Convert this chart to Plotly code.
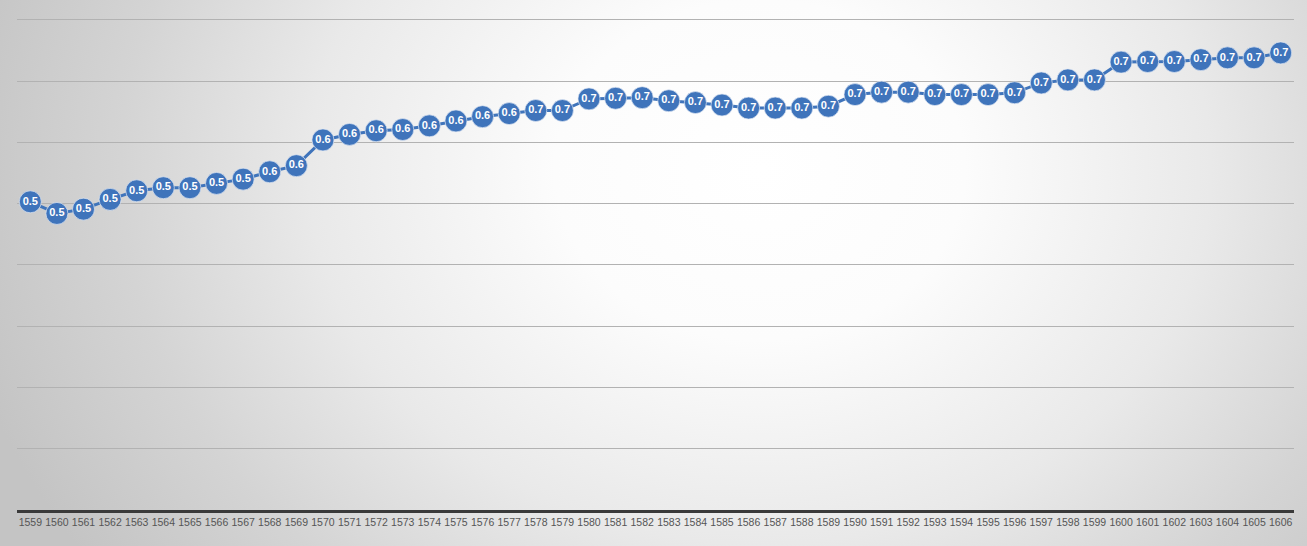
import plotly.graph_objects as go
import urllib.parse

years = [str(y) for y in range(1559, 1607)]
values = [0.503, 0.484, 0.491, 0.507, 0.521, 0.526, 0.526, 0.533, 0.540, 0.552,
          0.562, 0.604, 0.613, 0.619, 0.621, 0.627, 0.635, 0.642, 0.647, 0.652,
          0.652, 0.671, 0.672, 0.673, 0.668, 0.665, 0.661, 0.656, 0.656, 0.656,
          0.659, 0.678, 0.682, 0.682, 0.678, 0.678, 0.678, 0.681, 0.697, 0.702,
          0.702, 0.731, 0.732, 0.732, 0.735, 0.738, 0.738, 0.746]
y_ticks = [0, 0.1, 0.2, 0.3, 0.4, 0.5, 0.6, 0.7, 0.8]

W, H = 1307, 546
ML, MR, MT, MB = 17, 13, 18, 36
BLUE = "#3f74bb"

svg = (
    f'<svg xmlns="http://www.w3.org/2000/svg" width="{W}" height="{H}" viewBox="0 0 {W} {H}">'
    '<defs><radialGradient id="g" gradientUnits="userSpaceOnUse" cx="0" cy="0" r="1" '
    'gradientTransform="translate(760 170) scale(820 680)">'
    '<stop offset="0" stop-color="#ffffff"/>'
    '<stop offset="0.25" stop-color="#fcfcfc"/>'
    '<stop offset="0.55" stop-color="#e9e9e9"/>'
    '<stop offset="0.78" stop-color="#d4d4d4"/>'
    '<stop offset="1" stop-color="#c4c4c4"/>'
    '</radialGradient></defs>'
    f'<rect width="{W}" height="{H}" fill="url(#g)"/></svg>'
)
bg_src = "data:image/svg+xml;charset=utf-8," + urllib.parse.quote(svg)

pw = W - ML - MR
ph = H - MT - MB

fig = go.Figure()
fig.add_trace(go.Scatter(
    x=years, y=values, mode="lines+markers+text",
    line=dict(color=BLUE, width=3),
    marker=dict(size=22, color=BLUE, line=dict(color="rgba(225,232,244,0.7)", width=1)),
    texttemplate="%{y:.1f}", textposition="middle center",
    textfont=dict(family="Liberation Sans, Arial, sans-serif",
                  size=11, color="white", weight="bold"),
    hoverinfo="x+y", cliponaxis=False,
))

fig.update_layout(
    width=W, height=H,
    margin=dict(l=ML, r=MR, t=MT, b=MB, pad=0),
    paper_bgcolor="rgba(0,0,0,0)", plot_bgcolor="rgba(0,0,0,0)",
    showlegend=False,
    images=[dict(source=bg_src, xref="paper", yref="paper",
                 x=-ML / pw, y=1 + MT / ph, sizex=W / pw, sizey=H / ph,
                 xanchor="left", yanchor="top", sizing="stretch", layer="below")],
    xaxis=dict(type="category", range=[-0.5, len(years) - 0.5],
               showgrid=False, showline=True, linecolor="#3a3a3a", linewidth=3,
               ticks="", tickangle=0,
               tickfont=dict(family="Liberation Sans, Arial, sans-serif",
                             size=10.5, color="#555555"),
               fixedrange=True),
    yaxis=dict(range=[0, 0.803], tickvals=y_ticks, showticklabels=False,
               showgrid=True, gridcolor="#b2b2b2", gridwidth=1,
               zeroline=False, showline=False, fixedrange=True),
)

fig.write_html(
    "out.html",
    config={"displayModeBar": False},
    post_script="document.body.style.margin='0';document.body.style.overflow='hidden';",
)
